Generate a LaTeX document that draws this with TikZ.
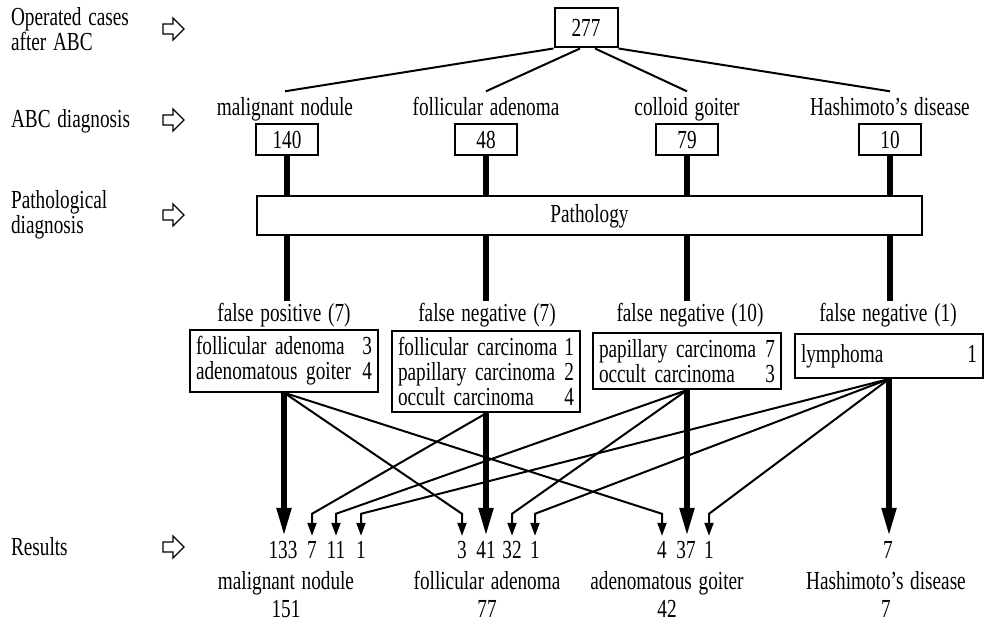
\documentclass[tikz,border=0pt]{standalone}
\usepackage{fontspec}
\setmainfont[FakeStretch=0.74,WordSpace=1.4]{Liberation Serif}
\usetikzlibrary{arrows.meta,positioning,calc}

\begin{document}
\begin{tikzpicture}[x=0.5pt,y=-0.5pt,
  every node/.style={font=\fontsize{13pt}{12.5pt}\selectfont},
  thn/.style={line width=1pt},
  thk/.style={line width=2.6pt},
  lbl/.style={inner sep=1pt, text height=8.8pt, text depth=2.5pt},
  cat/.style={lbl, inner sep=3pt},
  res/.style={inner sep=2.5pt, text height=8.8pt, text depth=0pt},
  numbox/.style={draw, thn, minimum width=31pt, minimum height=15.5pt, inner sep=0pt},
  errbox/.style={draw, thn, text width=88pt, align=left, inner xsep=3pt,
                 inner ysep=3.2pt, anchor=north},
  bigarr/.style={thk, -{Triangle[length=14pt,width=7pt]}},
  smallarr/.style={thn, -{Triangle[length=6.5pt,width=4.5pt]}},
  hollow/.pic={\draw[line width=0.7pt] (0,-5) -- (10,-5) -- (10,-11) -- (21,0)
               -- (10,11) -- (10,5) -- (0,5) -- cycle;}
]
\useasboundingbox (0,0) rectangle (985,620);

%% row titles
\node[anchor=west, align=left] (lop)  at (4,29)  {Operated cases\\after ABC};
\node[anchor=west]             (labc) at (4,121) {ABC diagnosis};
\node[anchor=west, align=left] (lpat) at (4,215) {Pathological\\diagnosis};
\node[anchor=west]             (lres) at (4,547) {Results};
\foreach \y in {29,120,215,547}
  \pic at (163,\y) {hollow};

%% ABC
\node[numbox, minimum width=31.5pt, minimum height=19.5pt] (top) at (586,28) {277};
\node[cat] (cmn) at (285,109) {malignant nodule};
\node[cat] (cfa) at (486,109) {follicular adenoma};
\node[cat] (ccg) at (687,109) {colloid goiter};
\node[cat] (chd) at (890,109) {Hashimoto's disease};
\draw[thn] (top.south west) -- (cmn.north);
\draw[thn] ([xshift=-3pt]top.south) -- (cfa.north);
\draw[thn] ([xshift=4.5pt]top.south) -- (ccg.north);
\draw[thn] (top.south east) -- (chd.north);

\node[numbox] (n140) at (287,140) {140};
\node[numbox] (n48)  at (486,140) {48};
\node[numbox] (n79)  at (687,140) {79};
\node[numbox] (n10)  at (890,140) {10};

%% pathology
\node[draw, thn, minimum width=332.5pt, minimum height=19.5pt] (pat) at (589.5,216) {Pathology};
\foreach \n in {n140,n48,n79,n10}
  \draw[thk] (\n.south) -- (\n.south |- pat.north);

\node[lbl] (fpl)   at (284,315) {false positive (7)};
\node[lbl] (fnl7)  at (487,315) {false negative (7)};
\node[lbl] (fnl10) at (690,315) {false negative (10)};
\node[lbl] (fnl1)  at (888,315) {false negative (1)};
\foreach \n/\l in {n140/fpl,n48/fnl7,n79/fnl10,n10/fnl1}
  \draw[thk] (\n |- pat.south) -- (\n |- \l.north);

\node[errbox] (fpb)  at (284,329) {follicular adenoma\hfill 3\\adenomatous goiter\hfill 4};
\node[errbox] (fn7b) at (486,330) {follicular carcinoma\hfill 1\\papillary carcinoma\hfill 2\\occult carcinoma\hfill 4};
\node[errbox] (fn10b) at (687,332) {papillary carcinoma\hfill 7\\occult carcinoma\hfill 3};
\node[errbox, minimum height=22pt] (fn1b) at (889,333) {lymphoma\hfill 1};

%% results
\node[res] (r133) at (283,550) {133};
\node[res] (r7a)  at (312,550) {7};
\node[res] (r11)  at (336,550) {11};
\node[res] (r1a)  at (361,550) {1};
\node[res] (r3)   at (462,550) {3};
\node[res] (r41)  at (486,550) {41};
\node[res] (r32)  at (512,550) {32};
\node[res] (r1b)  at (535,550) {1};
\node[res] (r4)   at (662,550) {4};
\node[res] (r37)  at (686,550) {37};
\node[res] (r1c)  at (709,550) {1};
\node[res] (r7b)  at (888,550) {7};

\foreach \s/\t in {fpb/r133,fn7b/r41,fn10b/r37,fn1b/r7b}
  \draw[bigarr] (\s.south) -- (\s.south |- \t.north);
\foreach \s/\t in {fpb/r3,fpb/r4,fn7b/r7a,fn10b/r11,fn10b/r32,fn1b/r1a,fn1b/r1b,fn1b/r1c}
  \draw[smallarr] (\s.south) -- ([yshift=11pt]\t.north) -- (\t.north);

\node[lbl] (rmn) at (286,583) {malignant nodule};
\node[lbl] (rfa) at (487,583) {follicular adenoma};
\node[lbl] (rag) at (667,583) {adenomatous goiter};
\node[lbl] (rhd) at (886,583) {Hashimoto's disease};
\node[lbl] (tmn) at (286,611) {151};
\node[lbl] (tfa) at (487,611) {77};
\node[lbl] (tag) at (667,611) {42};
\node[lbl] (thd) at (886,611) {7};
\end{tikzpicture}
\end{document}
